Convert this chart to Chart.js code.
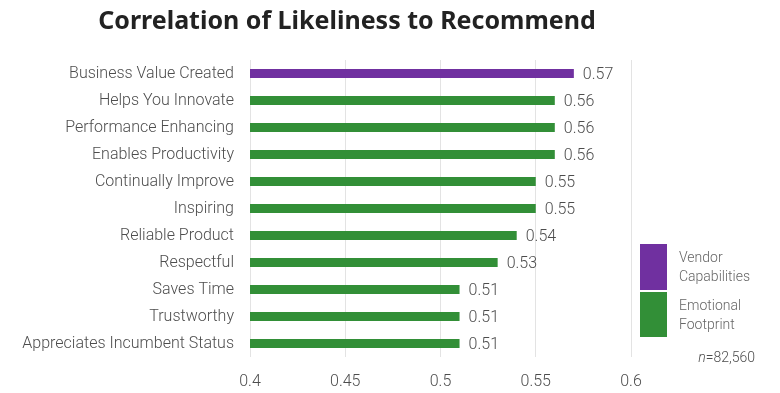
<!DOCTYPE html>
<html>
<head>
<meta charset="utf-8">
<script src="https://cdn.jsdelivr.net/npm/chart.js@4"></script>
<style>
    html, body { margin: 0; padding: 0; background: #fff; }
    #wrap { width: 780px; height: 393px; }
</style>
</head>
<body>
<div id="wrap"><canvas id="corr-chart"></canvas></div>
<script>

//---------------------------------------------------------------------------------------------
// - DATA -------------------------------------------------------------------------------------
//---------------------------------------------------------------------------------------------

var categories = [
    "Business Value Created",
    "Helps You Innovate",
    "Performance Enhancing",
    "Enables Productivity",
    "Continually Improve",
    "Inspiring",
    "Reliable Product",
    "Respectful",
    "Saves Time",
    "Trustworthy",
    "Appreciates Incumbent Status"
];

var vendor_values    = [0.57, null, null, null, null, null, null, null, null, null, null];
var emotional_values = [null, 0.56, 0.56, 0.56, 0.55, 0.55, 0.54, 0.53, 0.51, 0.51, 0.51];

var x_ticks = [0.4, 0.45, 0.5, 0.55, 0.6];

var series_names = ["Vendor Capabilities", "Emotional Footprint"];
var sample_note = "82,560";

var PURPLE = "#7030a0";
var GREEN  = "#328f37";
var TEXT   = "#4d4d4d";
var FONT   = "Roboto, 'Liberation Sans', sans-serif";

//---------------------------------------------------------------------------------------------
// - EXTRAS PLUGIN (title, value labels, legend, note) ----------------------------------------
//---------------------------------------------------------------------------------------------

var extras_plugin = {
    id: 'extras',
    afterDatasetsDraw: function (chart) {
        var ctx = chart.ctx;
        ctx.save();

        // value labels at bar ends
        ctx.font = "300 16px " + FONT;
        ctx.fillStyle = TEXT;
        ctx.textAlign = "left";
        ctx.textBaseline = "middle";
        chart.data.datasets.forEach(function (ds, i) {
            chart.getDatasetMeta(i).data.forEach(function (bar, j) {
                var v = ds.data[j];
                if (v === null) return;
                ctx.fillText(String(v), bar.x + 9, bar.y + 1);
            });
        });

        // title
        ctx.font = "bold 25px 'Noto Sans', sans-serif";
        ctx.fillStyle = "#222";
        ctx.textAlign = "center";
        ctx.fillText("Correlation of Likeliness to Recommend", 347, 22);

        // legend
        var sw = [PURPLE, GREEN];
        var boxes = [[244, 46], [292, 45]];
        ctx.textAlign = "left";
        ctx.font = "300 14px " + FONT;
        for (var k = 0; k < 2; k++) {
            ctx.fillStyle = sw[k];
            ctx.fillRect(640, boxes[k][0], 27, boxes[k][1]);
            ctx.fillStyle = "#666";
            var words = series_names[k].split(" ");
            ctx.fillText(words[0], 679, boxes[k][0] + 14);
            ctx.fillText(words[1], 679, boxes[k][0] + 33);
        }

        // sample size note
        ctx.textAlign = "right";
        ctx.fillStyle = TEXT;
        ctx.font = "300 14px " + FONT;
        var rest = "=" + sample_note;
        ctx.fillText(rest, 755, 358);
        var rw = ctx.measureText(rest).width;
        ctx.font = "italic 300 14px " + FONT;
        ctx.fillText("n", 755 - rw, 358);

        ctx.restore();
    }
};

//---------------------------------------------------------------------------------------------
// - BAR CHART --------------------------------------------------------------------------------
//---------------------------------------------------------------------------------------------

var corr_chart_data = {
    labels: categories,
    datasets: [{
        label: series_names[0],
        backgroundColor: PURPLE,
        data: vendor_values
    }, {
        label: series_names[1],
        backgroundColor: GREEN,
        data: emotional_values
    }]
};

var corr_chart_config = {
    type: 'bar',
    data: corr_chart_data,
    options: {
        indexAxis: 'y',
        responsive: true,
        maintainAspectRatio: false,
        animation: false,
        grouped: false,
        barPercentage: 0.34,
        categoryPercentage: 1,
        layout: {
            padding: { top: 60, right: 149, bottom: 0, left: 0 }
        },
        plugins: {
            legend: { display: false },
            title: { display: false },
            tooltip: { enabled: false }
        },
        scales: {
            x: {
                min: 0.4,
                max: 0.6,
                afterBuildTicks: function (scale) {
                    scale.ticks = x_ticks.map(function (v) { return { value: v }; });
                },
                afterFit: function (scale) { scale.height = 36; },
                grid: { color: "#e3e3e3", drawTicks: false },
                border: { display: false },
                ticks: {
                    padding: 15,
                    color: TEXT,
                    font: { family: FONT, size: 16, weight: 300 },
                    callback: function (v) { return String(+v.toFixed(2)); }
                }
            },
            y: {
                grid: { display: false, drawTicks: false },
                border: { display: false },
                afterFit: function (scale) { scale.width = 250; },
                ticks: {
                    padding: 16,
                    color: TEXT,
                    font: { family: FONT, size: 16, weight: 300 }
                }
            }
        }
    },
    plugins: [extras_plugin]
};

var corr_chart_ctx = document.getElementById("corr-chart").getContext("2d");

new Chart(corr_chart_ctx, corr_chart_config);

</script>
</body>
</html>
